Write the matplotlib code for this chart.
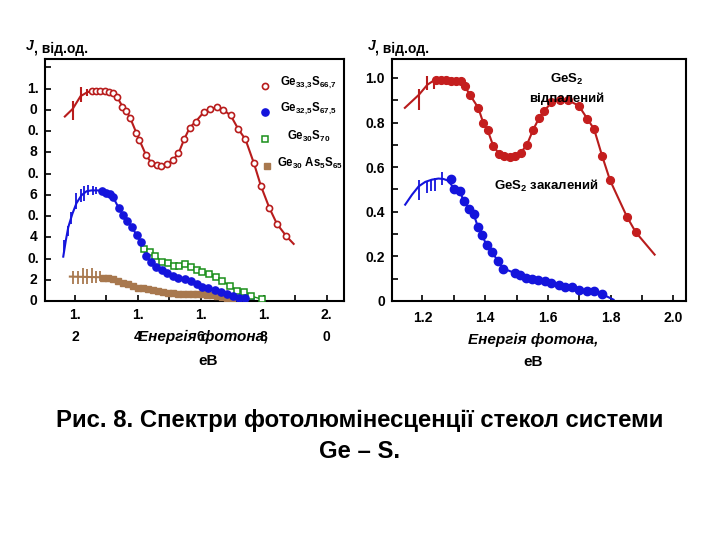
import matplotlib
matplotlib.use("Agg")
import matplotlib.pyplot as plt
import matplotlib.transforms as mtransforms
from matplotlib.text import Annotation

plt.rcParams['font.family'] = ['Liberation Sans', 'DejaVu Sans']
plt.rcParams['font.weight'] = 'bold'
plt.rcParams['mathtext.fontset'] = 'custom'
plt.rcParams['mathtext.rm'] = 'Liberation Sans:bold'
plt.rcParams['mathtext.it'] = 'Liberation Sans:italic:bold'
plt.rcParams['mathtext.bf'] = 'Liberation Sans:bold'
plt.rcParams['mathtext.default'] = 'rm'

# ---------------- data: left panel ----------------
x_ticks = [1.2, 1.4, 1.6, 1.8, 2.0]
x_tick_labels = ["1.2", "1.4", "1.6", "1.8", "2.0"]
x_minor = [1.2, 1.3, 1.4, 1.5, 1.6, 1.7, 1.8, 1.9, 2.0]
y_ticks = [0.0, 0.2, 0.4, 0.6, 0.8, 1.0]
y_tick_labels = ["0", "0.2", "0.4", "0.6", "0.8", "1.0"]
yl_minor = [0.0, 0.1, 0.2, 0.3, 0.4, 0.5, 0.6, 0.7, 0.8, 0.9, 1.0, 1.1]
yr_minor = [0.0, 0.1, 0.2, 0.3, 0.4, 0.5, 0.6, 0.7, 0.8, 0.9, 1.0]

# Ge33.3S66.7
red_head_x = [1.168, 1.193, 1.218, 1.240]
red_head_y = [0.869, 0.905, 0.965, 0.984]
red_x = [1.253, 1.266, 1.281, 1.296, 1.308, 1.321, 1.335, 1.351, 1.363, 1.376,
         1.395, 1.405, 1.426, 1.443, 1.460, 1.475, 1.492, 1.511, 1.529, 1.547,
         1.565, 1.584, 1.609, 1.629, 1.651, 1.672, 1.695, 1.719, 1.742, 1.769,
         1.791, 1.818, 1.842, 1.872]
red_y = [0.987, 0.989, 0.991, 0.987, 0.983, 0.978, 0.959, 0.916, 0.897, 0.861,
         0.793, 0.758, 0.687, 0.651, 0.643, 0.637, 0.645, 0.664, 0.695, 0.761,
         0.817, 0.845, 0.889, 0.904, 0.912, 0.900, 0.874, 0.810, 0.761, 0.648,
         0.542, 0.438, 0.363, 0.305]
red_tail_x = [1.895]
red_tail_y = [0.269]
red_bar_x = [1.193, 1.218, 1.240]
red_bar_lo = [0.853, 0.937, 0.964]
red_bar_hi = [0.940, 1.008, 1.000]

# Ge32.5S67.5
blue_head_x = [1.163, 1.171, 1.179, 1.192, 1.205, 1.221, 1.237, 1.253, 1.274]
blue_head_y = [0.209, 0.284, 0.348, 0.411, 0.461, 0.498, 0.517, 0.521, 0.521]
blue_x = [1.286, 1.300, 1.313, 1.321, 1.339, 1.353, 1.366, 1.381, 1.396, 1.411,
          1.426, 1.442, 1.458, 1.476, 1.492, 1.511, 1.529, 1.551, 1.568, 1.587,
          1.605, 1.623, 1.644, 1.663, 1.682, 1.701, 1.721, 1.742]
blue_y = [0.517, 0.510, 0.502, 0.490, 0.439, 0.406, 0.376, 0.348, 0.311, 0.276,
          0.213, 0.182, 0.161, 0.145, 0.131, 0.118, 0.106, 0.103, 0.092, 0.079,
          0.066, 0.060, 0.052, 0.043, 0.032, 0.024, 0.016, 0.013]
blue_tail_x = [1.768]
blue_tail_y = [0.010]
blue_bar_x = [1.165, 1.177, 1.189, 1.205, 1.218, 1.229, 1.242, 1.256, 1.268]
blue_bar_lo = [0.229, 0.308, 0.363, 0.434, 0.466, 0.471, 0.498, 0.498, 0.502]
blue_bar_hi = [0.288, 0.355, 0.419, 0.509, 0.529, 0.540, 0.545, 0.540, 0.537]

# Ge30S70
green_x = [1.421, 1.440, 1.456, 1.476, 1.495, 1.514, 1.532, 1.551, 1.568, 1.587,
           1.605, 1.626, 1.647, 1.668, 1.693, 1.716, 1.737, 1.758, 1.795]
green_y = [0.245, 0.229, 0.213, 0.186, 0.177, 0.166, 0.167, 0.174, 0.161, 0.145,
           0.137, 0.126, 0.111, 0.095, 0.071, 0.047, 0.043, 0.024, 0.008]

# Ge30As5S65
brown_head_x = [1.184, 1.279]
brown_head_y = [0.115, 0.112]
brown_x = [1.289, 1.305, 1.321, 1.337, 1.353, 1.368, 1.384, 1.400, 1.416, 1.432,
           1.447, 1.463, 1.479, 1.495, 1.511, 1.526, 1.542, 1.558, 1.574, 1.589,
           1.605, 1.621, 1.637, 1.653, 1.668, 1.684, 1.700]
brown_y = [0.107, 0.106, 0.103, 0.095, 0.087, 0.079, 0.071, 0.063, 0.060, 0.055,
           0.051, 0.047, 0.043, 0.039, 0.036, 0.035, 0.032, 0.032, 0.032, 0.032,
           0.032, 0.030, 0.027, 0.024, 0.019, 0.013, 0.005]
brown_bar_x = [1.195, 1.211, 1.226, 1.240, 1.253, 1.268, 1.279]
brown_bar_lo = [0.079, 0.082, 0.079, 0.082, 0.087, 0.087, 0.095]
brown_bar_hi = [0.142, 0.139, 0.155, 0.150, 0.155, 0.142, 0.139]

legend_labels = [r"Ge$_{33{,}3}$S$_{66{,}7}$", r"Ge$_{32{,}5}$S$_{67{,}5}$",
                 r"Ge$_{30}$S$_{70}$", r"Ge$_{30}$ As$_{5}$S$_{65}$"]

# ---------------- data: right panel ----------------
rred_head_x = [1.144, 1.189, 1.216, 1.238]
rred_head_y = [0.866, 0.925, 0.970, 0.990]
rred_x = [1.243, 1.259, 1.274, 1.290, 1.307, 1.323, 1.335, 1.351, 1.378, 1.394,
          1.408, 1.426, 1.444, 1.461, 1.479, 1.495, 1.513, 1.533, 1.553, 1.572,
          1.588, 1.611, 1.638, 1.664, 1.698, 1.725, 1.747, 1.773, 1.798, 1.852,
          1.880]
rred_y = [0.993, 0.993, 0.990, 0.987, 0.985, 0.985, 0.963, 0.925, 0.866, 0.798,
          0.765, 0.694, 0.661, 0.649, 0.644, 0.649, 0.664, 0.701, 0.768, 0.821,
          0.851, 0.891, 0.903, 0.900, 0.876, 0.818, 0.771, 0.649, 0.541, 0.377,
          0.308]
rred_tail_x = [1.940]
rred_tail_y = [0.208]
rred_bar_x = [1.189, 1.216, 1.238]
rred_bar_lo = [0.855, 0.948, 0.951]
rred_bar_hi = [0.951, 1.010, 0.999]

rblue_head_x = [1.145, 1.167, 1.188, 1.209, 1.230, 1.251, 1.267, 1.281]
rblue_head_y = [0.432, 0.477, 0.514, 0.534, 0.544, 0.549, 0.547, 0.540]
rblue_x = [1.292, 1.302, 1.320, 1.331, 1.349, 1.363, 1.377, 1.390, 1.405, 1.421,
           1.440, 1.458, 1.494, 1.512, 1.531, 1.549, 1.568, 1.591, 1.610, 1.634,
           1.653, 1.677, 1.698, 1.724, 1.748, 1.772]
rblue_y = [0.549, 0.504, 0.492, 0.447, 0.414, 0.390, 0.332, 0.294, 0.250, 0.220,
           0.181, 0.145, 0.126, 0.115, 0.103, 0.100, 0.093, 0.088, 0.081, 0.073,
           0.063, 0.064, 0.051, 0.046, 0.046, 0.031]
rblue_tail_x = [1.809]
rblue_tail_y = [0.006]
rblue_bar_x = [1.190, 1.214, 1.228, 1.241, 1.262]
rblue_bar_lo = [0.454, 0.484, 0.492, 0.492, 0.522]
rblue_bar_hi = [0.544, 0.537, 0.544, 0.552, 0.578]

# ---------------- colours ----------------
C_RED = "#b81c1c"
C_BLUE = "#1414dc"
C_GREEN = "#1a8f1a"
C_BROWN = "#a8784e"

fig = plt.figure(figsize=(7.2, 5.4), dpi=100)
fig.patch.set_facecolor("white")

axL = fig.add_axes([45 / 720, 1 - 301 / 540, 299 / 720, 242 / 540])
axR = fig.add_axes([392 / 720, 1 - 301 / 540, 294 / 720, 242 / 540])

for ax in (axL, axR):
    for s in ax.spines.values():
        s.set_linewidth(1.5)
        s.set_color("black")
    ax.tick_params(which="both", direction="in", length=4, width=1.2,
                   top=False, right=False, labelsize=10)

# ---------------- left panel ----------------
axL.set_xlim(1.105, 2.055)
axL.set_ylim(0, 1.14)
axL.set_xticks(x_minor)
axL.set_yticks(yl_minor)
axL.set_xticklabels([])
axL.set_yticklabels([])

axL.plot(red_head_x + red_x + red_tail_x, red_head_y + red_y + red_tail_y,
         color=C_RED, lw=1.5, zorder=2)
axL.vlines(red_bar_x, red_bar_lo, red_bar_hi, color=C_RED, lw=1.5, zorder=2)
axL.plot(red_x, red_y, ls="none", marker="o", ms=4.4, mfc="white",
         mec=C_RED, mew=1.2, zorder=3)

axL.plot(green_x, green_y, color=C_GREEN, lw=1.0, marker="s", ms=4.3,
         mfc="white", mec=C_GREEN, mew=1.1, zorder=3)

axL.plot(blue_head_x + blue_x + blue_tail_x, blue_head_y + blue_y + blue_tail_y,
         color=C_BLUE, lw=1.5, zorder=2)
axL.vlines(blue_bar_x, blue_bar_lo, blue_bar_hi, color=C_BLUE, lw=1.3, zorder=2)
axL.plot(blue_x, blue_y, ls="none", marker="o", ms=5.2, mfc=C_BLUE,
         mec=C_BLUE, zorder=4)

axL.plot(brown_head_x + brown_x, brown_head_y + brown_y, color=C_BROWN,
         lw=1.5, zorder=2)
axL.vlines(brown_bar_x, brown_bar_lo, brown_bar_hi, color=C_BROWN, lw=1.3,
           zorder=2)
axL.plot(brown_x, brown_y, ls="none", marker="s", ms=4.3, mfc=C_BROWN,
         mec=C_BROWN, zorder=3)

# wrapped tick labels (left panel)
tx = mtransforms.blended_transform_factory(axL.transData, axL.transAxes)
for v, lab in zip(x_ticks, x_tick_labels):
    a, b = lab.split(".")
    axL.annotate(a + ".", xy=(v, 0), xycoords=tx, xytext=(0, -14),
                 textcoords="offset pixels", ha="center", va="center",
                 fontsize=10, fontweight="bold")
    axL.annotate(b, xy=(v, 0), xycoords=tx, xytext=(0, -36),
                 textcoords="offset pixels", ha="center", va="center",
                 fontsize=10, fontweight="bold")
ty = mtransforms.blended_transform_factory(axL.transAxes, axL.transData)
for v, lab in zip(y_ticks, y_tick_labels):
    if "." in lab:
        a, b = lab.split(".")
        axL.annotate(a + ".", xy=(0, v), xycoords=ty, xytext=(-11.5, 0),
                     textcoords="offset pixels", ha="center", va="center",
                     fontsize=10, fontweight="bold")
        axL.annotate(b, xy=(0, v), xycoords=ty, xytext=(-11.5, -21),
                     textcoords="offset pixels", ha="center", va="center",
                     fontsize=10, fontweight="bold")
    else:
        axL.annotate(lab, xy=(0, v), xycoords=ty, xytext=(-11.5, 0),
                     textcoords="offset pixels", ha="center", va="center",
                     fontsize=10, fontweight="bold")

# legend (left panel)
leg_styles = [dict(marker="o", ms=4.4, mfc="white", mec=C_RED, mew=1.2),
              dict(marker="o", ms=5.2, mfc=C_BLUE, mec=C_BLUE),
              dict(marker="s", ms=4.3, mfc="white", mec=C_GREEN, mew=1.1),
              dict(marker="s", ms=4.3, mfc=C_BROWN, mec=C_BROWN)]
leg_my = [0.888, 0.780, 0.668, 0.558]
leg_mx = [0.736, 0.736, 0.736, 0.742]
leg_tx = [0.786, 0.786, 0.809, 0.776]
for lab, st, my, mx, txx in zip(legend_labels, leg_styles, leg_my, leg_mx, leg_tx):
    axL.plot([mx], [my], ls="none", transform=axL.transAxes, clip_on=False, **st)
    axL.text(txx, my + 0.012, lab, transform=axL.transAxes, ha="left",
             va="center", fontsize=8.3, fontweight="bold")

# ---------------- right panel ----------------
axR.set_xlim(1.103, 2.04)
axR.set_ylim(0, 1.085)
axR.set_xticks(x_ticks, x_tick_labels)
axR.set_xticks(x_minor, minor=True)
axR.set_yticks(y_ticks, y_tick_labels)
axR.set_yticks(yr_minor, minor=True)
axR.tick_params(axis="x", which="major", pad=7)
axR.tick_params(axis="y", which="major", pad=5)
for lbl in axR.get_xticklabels() + axR.get_yticklabels():
    lbl.set_fontweight("bold")

axR.plot(rred_head_x + rred_x + rred_tail_x, rred_head_y + rred_y + rred_tail_y,
         color=C_RED, lw=1.5, zorder=2)
axR.vlines(rred_bar_x, rred_bar_lo, rred_bar_hi, color=C_RED, lw=1.5, zorder=2)
axR.plot(rred_x, rred_y, ls="none", marker="o", ms=5.6, mfc="#c41e1e",
         mec="#c41e1e", zorder=3)

axR.plot(rblue_head_x + rblue_x[1:] + rblue_tail_x,
         rblue_head_y + rblue_y[1:] + rblue_tail_y, color=C_BLUE, lw=1.5, zorder=2)
axR.vlines(rblue_bar_x, rblue_bar_lo, rblue_bar_hi, color=C_BLUE, lw=1.3, zorder=2)
axR.plot(rblue_x, rblue_y, ls="none", marker="o", ms=6.0, mfc=C_BLUE,
         mec=C_BLUE, zorder=3)

axR.text(1.659, 0.992, r"GeS$_2$", ha="center", va="center", fontsize=9.5,
         fontweight="bold", zorder=5)
axR.text(1.659, 0.906, "відпалений", ha="center", va="center", fontsize=9.5,
         fontweight="bold", zorder=5)
axR.text(1.428, 0.518, r"GeS$_2$ закалений", ha="left", va="center",
         fontsize=9.5, fontweight="bold", zorder=5)

# ---------------- axis titles ----------------
for xp, yp in [(26, 50.5), (367.7, 50)]:
    j = fig.text(xp / 720, 1 - yp / 540, "J", fontsize=10, fontweight="bold",
                 fontstyle="italic", ha="left", va="baseline")
    fig.add_artist(Annotation(", від.од.", xy=(1, 0), xycoords=j,
                              fontsize=10, fontweight="bold",
                              ha="left", va="baseline"))

fig.text(203 / 720, 1 - 337 / 540, "Енергія фотона,", fontsize=11,
         fontweight="bold", fontstyle="italic", ha="center", va="center")
fig.text(208 / 720, 1 - 361 / 540, "еВ", fontsize=11, fontweight="bold",
         ha="center", va="center")
fig.text(533 / 720, 1 - 340 / 540, "Енергія фотона,", fontsize=11,
         fontweight="bold", fontstyle="italic", ha="center", va="center")
fig.text(533 / 720, 1 - 362 / 540, "еВ", fontsize=11, fontweight="bold",
         ha="center", va="center")

# ---------------- caption ----------------
fig.text(0.5, 1 - 420 / 540, "Рис. 8. Спектри фотолюмінесценції стекол системи",
         fontsize=17.2, fontweight="bold", ha="center", va="center")
fig.text(0.5, 1 - 451 / 540, "Ge – S.", fontsize=17.2, fontweight="bold",
         ha="center", va="center")

fig.savefig("out.png", dpi=100, facecolor="white")
